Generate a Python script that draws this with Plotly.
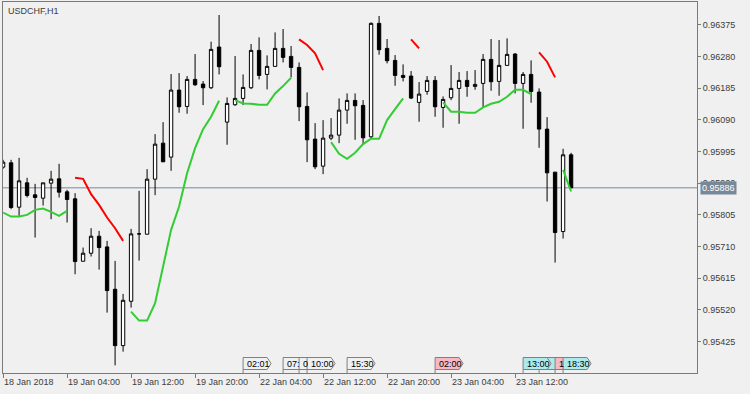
import plotly.graph_objects as go

# ---------------- data (USDCHF, H1) ----------------
symbol_title = "USDCHF,H1"
last_price = 0.95886

bar_open = [0.95948, 0.95961, 0.95828, 0.95901, 0.95865, 0.95855, 0.95900, 0.95913, 0.95874, 0.95853,
            0.95666, 0.95690, 0.95741, 0.95709, 0.95582, 0.95413, 0.95546, 0.95748, 0.95747, 0.95912,
            0.96020, 0.95978, 0.96179, 0.96130, 0.96211, 0.96197, 0.96186, 0.96308, 0.96083, 0.96135,
            0.96154, 0.96186, 0.96298, 0.96226, 0.96250, 0.96304, 0.96280, 0.96247, 0.96130, 0.96032,
            0.95951, 0.96035, 0.96044, 0.96119, 0.96148, 0.96133, 0.96039, 0.96379, 0.96304, 0.96268,
            0.96223, 0.96221, 0.96142, 0.96175, 0.96208, 0.96127, 0.96156, 0.96184, 0.96208, 0.96190,
            0.96199, 0.96271, 0.96205, 0.96253, 0.96287, 0.96199, 0.96226, 0.96173, 0.96062, 0.95933,
            0.95755, 0.95985]
bar_high = [0.95970, 0.95970, 0.95976, 0.95916, 0.95898, 0.95901, 0.95937, 0.95958, 0.95880, 0.95870,
            0.95707, 0.95765, 0.95757, 0.95727, 0.95667, 0.95568, 0.95763, 0.95877, 0.95942, 0.96047,
            0.96083, 0.96227, 0.96230, 0.96221, 0.96287, 0.96206, 0.96324, 0.96404, 0.96157, 0.96281,
            0.96226, 0.96317, 0.96337, 0.96283, 0.96352, 0.96362, 0.96311, 0.96262, 0.96172, 0.96080,
            0.96089, 0.96095, 0.96154, 0.96169, 0.96169, 0.96149, 0.96382, 0.96401, 0.96332, 0.96284,
            0.96256, 0.96236, 0.96203, 0.96221, 0.96221, 0.96160, 0.96254, 0.96233, 0.96236, 0.96239,
            0.96287, 0.96332, 0.96329, 0.96334, 0.96290, 0.96233, 0.96268, 0.96184, 0.96098, 0.95933,
            0.96003, 0.95991]
bar_low = [0.95943, 0.95822, 0.95802, 0.95857, 0.95737, 0.95833, 0.95792, 0.95857, 0.95782, 0.95627,
           0.95665, 0.95680, 0.95641, 0.95512, 0.95354, 0.95395, 0.95527, 0.95668, 0.95747, 0.95864,
           0.95964, 0.95937, 0.96111, 0.96108, 0.96191, 0.96134, 0.96182, 0.96226, 0.96015, 0.96132,
           0.96134, 0.96182, 0.96211, 0.96181, 0.96250, 0.96262, 0.96217, 0.96086, 0.95963, 0.95942,
           0.95927, 0.96029, 0.96020, 0.96078, 0.96030, 0.96017, 0.96035, 0.96285, 0.96259, 0.96192,
           0.96205, 0.96152, 0.96084, 0.96165, 0.96099, 0.96066, 0.96149, 0.96078, 0.96159, 0.96180,
           0.96127, 0.96177, 0.96162, 0.96253, 0.96169, 0.96063, 0.96141, 0.96006, 0.95845, 0.95662,
           0.95734, 0.95886]
bar_close = [0.95963, 0.95827, 0.95907, 0.95863, 0.95857, 0.95901, 0.95912, 0.95873, 0.95851, 0.95665,
             0.95690, 0.95741, 0.95707, 0.95578, 0.95413, 0.95549, 0.95748, 0.95748, 0.95912, 0.96017,
             0.95964, 0.96179, 0.96129, 0.96211, 0.96195, 0.96186, 0.96301, 0.96249, 0.96139, 0.96154,
             0.96187, 0.96298, 0.96223, 0.96250, 0.96304, 0.96277, 0.96247, 0.96129, 0.96030, 0.95949,
             0.96035, 0.96044, 0.96119, 0.96148, 0.96132, 0.96036, 0.96379, 0.96300, 0.96267, 0.96223,
             0.96217, 0.96155, 0.96167, 0.96208, 0.96129, 0.96151, 0.96184, 0.96208, 0.96190, 0.96196,
             0.96271, 0.96204, 0.96253, 0.96286, 0.96199, 0.96226, 0.96175, 0.96062, 0.95931, 0.95752,
             0.95985, 0.95886]

N = None
trend_up = [0.95812, 0.95800, 0.95800, 0.95805, 0.95820, 0.95824, 0.95814, 0.95802, 0.95817, N,
            N, N, N, N, N, N, 0.95515, 0.95488, 0.95488, 0.95540,
            0.95650, 0.95760, 0.95830, 0.95930, 0.96005, 0.96062, 0.96099, 0.96147, N, 0.96149,
            0.96139, 0.96138, 0.96135, 0.96135, 0.96169, 0.96191, 0.96216, N, N, N,
            N, 0.96023, 0.95988, 0.95973, 0.95991, 0.96017, 0.96033, 0.96033, 0.96089, 0.96122,
            0.96154, N, N, N, N, 0.96142, 0.96114, 0.96114, 0.96111, 0.96111,
            0.96127, 0.96138, 0.96144, 0.96159, 0.96180, 0.96180, 0.96167, N, N, N,
            0.95940, 0.95875]
trend_down = [N, N, N, N, N, N, N, N, N, 0.95916,
              0.95913, 0.95867, 0.95835, 0.95797, 0.95765, 0.95727, N, N, N, N,
              N, N, N, N, N, N, N, N, N, N,
              N, N, N, N, N, N, N, 0.96331, 0.96314, 0.96289,
              0.96239, N, N, N, N, N, N, N, N, N,
              N, 0.96331, 0.96304, N, N, N, N, N, N, N,
              N, N, N, N, N, N, N, 0.96292, 0.96264, 0.96217,
              N, N]

bar_index = list(range(len(bar_close)))

x_tick_bars = [0, 8, 16, 24, 32, 40, 48, 56, 64]
x_tick_labels = ["18 Jan 2018", "19 Jan 04:00", "19 Jan 12:00", "19 Jan 20:00", "22 Jan 04:00",
                 "22 Jan 12:00", "22 Jan 20:00", "23 Jan 04:00", "23 Jan 12:00"]
y_tick_values = [0.95425, 0.95520, 0.95615, 0.95710, 0.95805, 0.95900, 0.95995,
                 0.96090, 0.96185, 0.96280, 0.96375]
y_tick_labels = ["%.5f" % v for v in y_tick_values]

# calendar event tags (bar, visible text, kind) in drawing order
event_bars = [30, 35, 37, 38, 43, 54, 67, 65, 69, 70]
event_texts = ["02:01", "07:", "0", "10:00", "15:30", "02:00", "", "13:00", "1", "18:30"]
event_kinds = ["none", "none", "none", "none", "none", "high", "low", "low", "high", "low"]

# ---------------- styling ----------------
BG = "#F0F0F0"
FRAME = "#7a7a7a"
TXT = "#3c3c3c"
FONT = "Liberation Sans, Arial, sans-serif"
KIND_FILL = {"none": "#F0F0F0", "high": "#F7B8C2", "low": "#AEEAEA"}

W, H = 750, 394
M_L, M_R, M_T, M_B = 3, 53, 2, 21
PLOT_H = H - M_T - M_B
BAR_PX = 8.0
X_RANGE = [-0.01, -0.01 + (W - M_L - M_R) / BAR_PX]
Y_RANGE = [0.95331, 0.96443]


def py(ypix):
    """pixel row -> paper fraction"""
    return (H - M_B - ypix) / PLOT_H


def px(dpix):
    """pixel width -> bar units"""
    return dpix / BAR_PX


fig = go.Figure()

fig.add_trace(go.Candlestick(
    x=bar_index, open=bar_open, high=bar_high, low=bar_low, close=bar_close,
    increasing=dict(fillcolor="white", line=dict(color="black", width=1)),
    decreasing=dict(fillcolor="black", line=dict(color="black", width=1)),
    whiskerwidth=0, showlegend=False, hoverinfo="skip",
))
fig.add_trace(go.Scatter(x=bar_index, y=trend_up, mode="lines", connectgaps=False,
                         line=dict(color="#32CD32", width=2), showlegend=False, hoverinfo="skip"))
fig.add_trace(go.Scatter(x=bar_index, y=trend_down, mode="lines", connectgaps=False,
                         line=dict(color="#FF0000", width=2), showlegend=False, hoverinfo="skip"))

shapes = []
annotations = []

# bid line
shapes.append(dict(type="line", xref="paper", yref="y", x0=0, x1=1, y0=last_price, y1=last_price,
                   line=dict(color="#778899", width=1), layer="below"))

# event tags
ytop, ybot = py(357.5), py(369.5)
ymid = (ytop + ybot) / 2
for b, t, kind in zip(event_bars, event_texts, event_kinds):
    x0 = b
    path = (f"M {x0},{ybot} L {x0},{ytop} L {x0 + px(24)},{ytop} "
            f"L {x0 + px(28)},{ymid} L {x0 + px(24)},{ybot} Z")
    shapes.append(dict(type="path", xref="x", yref="paper", path=path,
                       fillcolor=KIND_FILL[kind], line=dict(color="#808080", width=1), layer="above"))
    shapes.append(dict(type="line", xref="x", yref="paper", x0=x0, x1=x0, y0=ybot, y1=0,
                       line=dict(color="#808080", width=1), layer="above"))
    if t:
        annotations.append(dict(xref="x", yref="paper", x=x0 + px(1.5), y=ymid, text=t,
                                showarrow=False, xanchor="left", yanchor="middle",
                                font=dict(family=FONT, size=9, color="black")))

# title
annotations.append(dict(xref="paper", yref="paper", x=0, y=1, xshift=3, yshift=-2, text=symbol_title,
                        showarrow=False, xanchor="left", yanchor="top",
                        font=dict(family=FONT, size=9, color=TXT)))
# price tag
annotations.append(dict(xref="paper", yref="y", x=1, xshift=3, y=last_price, text="%.5f" % last_price,
                        showarrow=False, xanchor="left", yanchor="middle", bgcolor="#778899",
                        borderpad=1, font=dict(family=FONT, size=9, color="white")))

fig.update_layout(
    width=W, height=H, margin=dict(l=M_L, r=M_R, t=M_T, b=M_B),
    paper_bgcolor=BG, plot_bgcolor=BG,
    font=dict(family=FONT, size=9, color=TXT),
    shapes=shapes, annotations=annotations,
    boxgap=0.4, showlegend=False,
    xaxis=dict(range=X_RANGE, tickmode="array", tickvals=x_tick_bars, ticktext=x_tick_labels,
               ticks="outside", ticklen=4, tickcolor=FRAME, showline=True, linecolor=FRAME,
               linewidth=1, mirror=True, showgrid=False, zeroline=False,
               ticklabelposition="outside right", rangeslider=dict(visible=False), fixedrange=True),
    yaxis=dict(range=Y_RANGE, side="right", tickmode="array", tickvals=y_tick_values,
               ticktext=y_tick_labels, ticks="outside", ticklen=3, tickcolor=FRAME,
               showline=True, linecolor=FRAME, linewidth=1, mirror=True, showgrid=False,
               zeroline=False, fixedrange=True),
)

fig.write_html("out.html", config={"displayModeBar": False},
               post_script="document.body.style.margin='0';document.body.style.background='#F0F0F0';")
